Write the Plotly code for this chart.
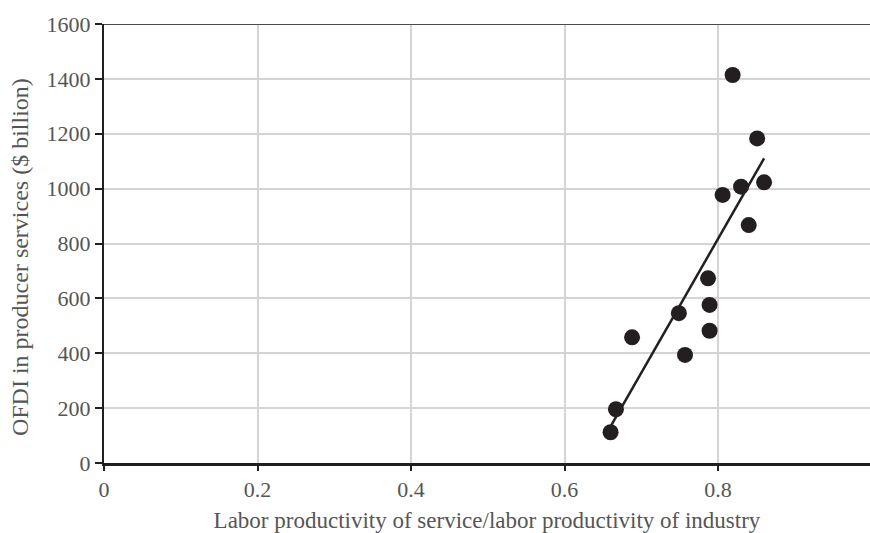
import plotly.graph_objects as go

# Data
productivity_ratio = [0.819, 0.851, 0.860, 0.830, 0.806, 0.840, 0.787, 0.789,
                      0.789, 0.749, 0.688, 0.757, 0.667, 0.660]
ofdi_billion = [1414, 1183, 1023, 1007, 977, 867, 673, 576,
                482, 546, 458, 394, 196, 112]

trend_x = [0.661, 0.860]
trend_y = [138, 1110]

x_ticks = [0, 0.2, 0.4, 0.6, 0.8]
x_tick_text = ["0", "0.2", "0.4", "0.6", "0.8"]
y_ticks = [0, 200, 400, 600, 800, 1000, 1200, 1400, 1600]

dark = "#231f20"
grid = "#d4d4d4"
text_gray = "#555555"
font_family = "Liberation Serif, Times New Roman, serif"

fig = go.Figure()
fig.add_trace(go.Scatter(
    x=trend_x, y=trend_y, mode="lines",
    line=dict(color=dark, width=2.5), showlegend=False, hoverinfo="skip"))
fig.add_trace(go.Scatter(
    x=productivity_ratio, y=ofdi_billion, mode="markers",
    marker=dict(color=dark, size=16, line=dict(width=0)), showlegend=False))

fig.add_shape(type="line", xref="paper", yref="y", x0=0, x1=1, y0=1600, y1=1600,
              line=dict(color="#4a4a4a", width=2))

fig.add_annotation(
    text="OFDI in producer services ($ billion)",
    xref="paper", yref="paper", x=-0.1097, y=0.469,
    xanchor="center", yanchor="middle", textangle=-90, showarrow=False,
    font=dict(family=font_family, size=24, color=text_gray))

fig.update_layout(
    width=870, height=533,
    margin=dict(l=104, r=0, t=24, b=70),
    plot_bgcolor="white", paper_bgcolor="white",
    font=dict(family=font_family, size=22, color=text_gray),
    xaxis=dict(
        range=[0, 0.998], tickvals=x_ticks, ticktext=x_tick_text,
        showgrid=True, gridcolor=grid, gridwidth=2,
        zeroline=False, showline=True, linecolor=dark, linewidth=3,
        ticks="outside", ticklen=5, tickwidth=2, tickcolor=dark,
        tickfont=dict(size=22, color=text_gray),
        title=dict(text="Labor productivity of service/labor productivity of industry",
                   font=dict(size=23, color=text_gray), standoff=14),
    ),
    yaxis=dict(
        range=[0, 1600], tickvals=y_ticks,
        showgrid=True, gridcolor=grid, gridwidth=2,
        zeroline=False, showline=True, linecolor=dark, linewidth=2,
        ticks="outside", ticklen=7, tickwidth=2, tickcolor=dark,
        tickfont=dict(size=22, color=text_gray),
    ),
)

fig.write_html("out.html")
